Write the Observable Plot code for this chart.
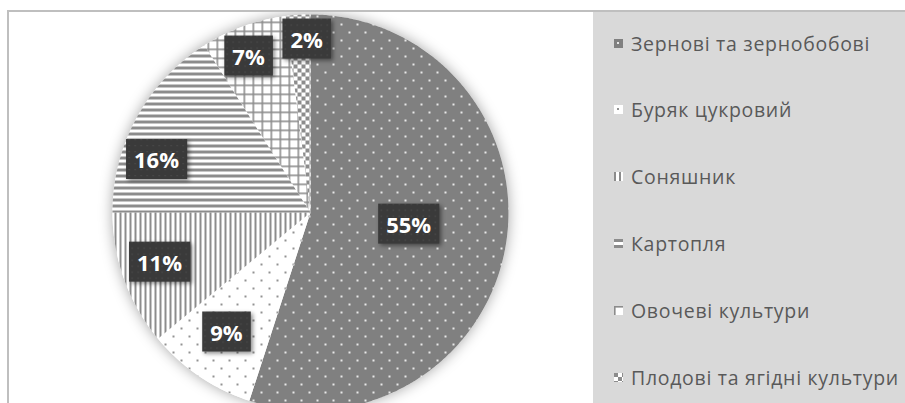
<!DOCTYPE html>
<html><head><meta charset="utf-8">
<script src="https://cdn.jsdelivr.net/npm/d3@7"></script>
<script src="https://cdn.jsdelivr.net/npm/@observablehq/plot@0.6"></script>
<style>
html,body{margin:0;padding:0;background:#fff;overflow:hidden;width:905px;height:403px;}
#frame{position:absolute;left:7px;top:10px;width:898px;height:400px;border-top:2px solid #bfbfbf;border-left:2px solid #bfbfbf;overflow:hidden;}
#chart{position:absolute;left:0;top:0;}
#legend{position:absolute;left:584px;top:0;width:330px;height:400px;background:#d9d9d9;}
.item{position:absolute;left:21px;height:30px;display:flex;align-items:center;font-family:"Open Sans",sans-serif;font-size:19.5px;letter-spacing:0.7px;color:#595959;white-space:nowrap;}
.item svg{margin-right:8px;flex:none;}
</style></head><body>
<svg width="0" height="0" style="position:absolute">
<defs>
<pattern id="p0" patternUnits="userSpaceOnUse" width="16" height="16"><rect width="16" height="16" fill="#808080"/><rect x="3" y="3" width="2" height="2" fill="#e8e8e8"/><rect x="11" y="11" width="2" height="2" fill="#e8e8e8"/></pattern>
<pattern id="p1" patternUnits="userSpaceOnUse" width="16" height="16"><rect width="16" height="16" fill="#ffffff"/><rect x="3" y="3" width="2" height="2" fill="#929292"/><rect x="11" y="11" width="2" height="2" fill="#929292"/></pattern>
<pattern id="p2" patternUnits="userSpaceOnUse" width="5" height="10"><rect width="5" height="10" fill="#ffffff"/><rect x="0" y="0" width="2" height="10" fill="#8c8c8c"/></pattern>
<pattern id="p3" patternUnits="userSpaceOnUse" width="10" height="6"><rect width="10" height="6" fill="#ffffff"/><rect x="0" y="0" width="10" height="3" fill="#8c8c8c"/></pattern>
<pattern id="p4" patternUnits="userSpaceOnUse" width="9" height="9"><rect width="9" height="9" fill="#ffffff"/><rect x="0" y="0" width="1.6" height="9" fill="#8c8c8c"/><rect x="0" y="0" width="9" height="1.6" fill="#8c8c8c"/></pattern>
<pattern id="p5" patternUnits="userSpaceOnUse" width="8" height="8"><rect width="8" height="8" fill="#ffffff"/><rect x="0" y="0" width="4" height="4" fill="#8c8c8c"/><rect x="4" y="4" width="4" height="4" fill="#8c8c8c"/></pattern>
<pattern id="lp" patternUnits="userSpaceOnUse" width="6" height="6"><rect width="6" height="6" fill="#3a3a3a"/><rect x="2" y="2" width="1.2" height="1.2" fill="#4e4e4e"/></pattern>
</defs></svg>
<div id="frame"><div id="chart"></div><div id="legend"></div></div>
<script>
// ---- data ----
const categories = ["Зернові та зернобобові", "Буряк цукровий", "Соняшник", "Картопля", "Овочеві культури", "Плодові та ягідні культури"];
const shares = [55, 9, 11, 16, 7, 2];
const shareLabels = ["55%", "9%", "11%", "16%", "7%", "2%"];
const patternIds = ["p0", "p1", "p2", "p3", "p4", "p5"];
// Excel "best fit" label placement: nudge from mid-angle (deg) and radius fraction
const labelNudge = [-1.4, 0.6, 1.1, -10.3, -2, 2.3];
const labelRadius = [0.5, 0.744, 0.805, 0.82, 0.843, 0.869];

// ---- geometry in data units (unit circle, angle clockwise from 12 o'clock) ----
const total = d3.sum(shares);
const rad = d => d * Math.PI / 180;
const wedges = [];
const labelsData = [];
let acc = 0;
shares.forEach((v, i) => {
  const a0 = acc / total * 360, a1 = (acc + v) / total * 360;
  acc += v;
  wedges.push({cat: categories[i], x: 0, y: 0});
  const n = Math.max(2, Math.ceil((a1 - a0) / 0.5));
  for (let k = 0; k <= n; k++) {
    const a = rad(a0 + (a1 - a0) * k / n);
    wedges.push({cat: categories[i], x: Math.sin(a), y: Math.cos(a)});
  }
  const am = rad((a0 + a1) / 2 + labelNudge[i]);
  labelsData.push({label: shareLabels[i], x: labelRadius[i] * Math.sin(am), y: labelRadius[i] * Math.cos(am)});
});
const circle = d3.range(0, 361, 1).map(a => ({x: Math.sin(rad(a)), y: Math.cos(rad(a))}));

const plot = Plot.plot({
  width: 584,
  height: 393,
  margin: 0,
  x: {domain: [-1, 1], range: [103, 499], axis: null},
  y: {domain: [-1, 1], range: [398, 2], axis: null},
  color: {type: "ordinal", domain: categories, range: patternIds.map(id => `url(#${id})`)},
  marks: [
    Plot.line(circle, {x: "x", y: "y", fill: "white", stroke: "none"}),
    Plot.line(wedges, {x: "x", y: "y", z: "cat", fill: "cat", stroke: "none"}),
    Plot.text(labelsData, {x: "x", y: "y", text: "label", fill: "white", fontSize: 22, fontWeight: "bold", fontFamily: "Open Sans"})
  ]
});
document.getElementById("chart").appendChild(plot);

// shadow under pie
const lineGroups = plot.querySelectorAll('g[aria-label="line"]');
if (lineGroups[0]) lineGroups[0].style.filter = "drop-shadow(0px 0px 7px rgba(0,0,0,0.35))";

// label boxes behind text
const tg = plot.querySelector('g[aria-label="text"]');
if (tg) {
  tg.querySelectorAll("text").forEach(t => {
    const b = t.getBBox();
    const r = document.createElementNS("http://www.w3.org/2000/svg", "rect");
    const cy = b.y + b.height / 2;
    r.setAttribute("x", b.x - 8);
    r.setAttribute("width", b.width + 16);
    r.setAttribute("y", cy - 20);
    r.setAttribute("height", 40);
    r.setAttribute("fill", "url(#lp)");
    const tr = t.getAttribute("transform");
    if (tr) r.setAttribute("transform", tr);
    r.style.filter = "drop-shadow(2px 2px 2px rgba(0,0,0,0.45))";
    tg.insertBefore(r, t);
  });
}

// legend (HTML)
const legend = d3.select("#legend");
categories.forEach((c, i) => {
  const it = legend.append("div").attr("class", "item").style("top", (16 + i * 66.8) + "px");
  const s = it.append("svg").attr("width", 9).attr("height", 9);
  s.append("rect").attr("width", 9).attr("height", 9).attr("fill", `url(#${patternIds[i]})`);
  it.append("span").text(c);
});
</script>
</body></html>
